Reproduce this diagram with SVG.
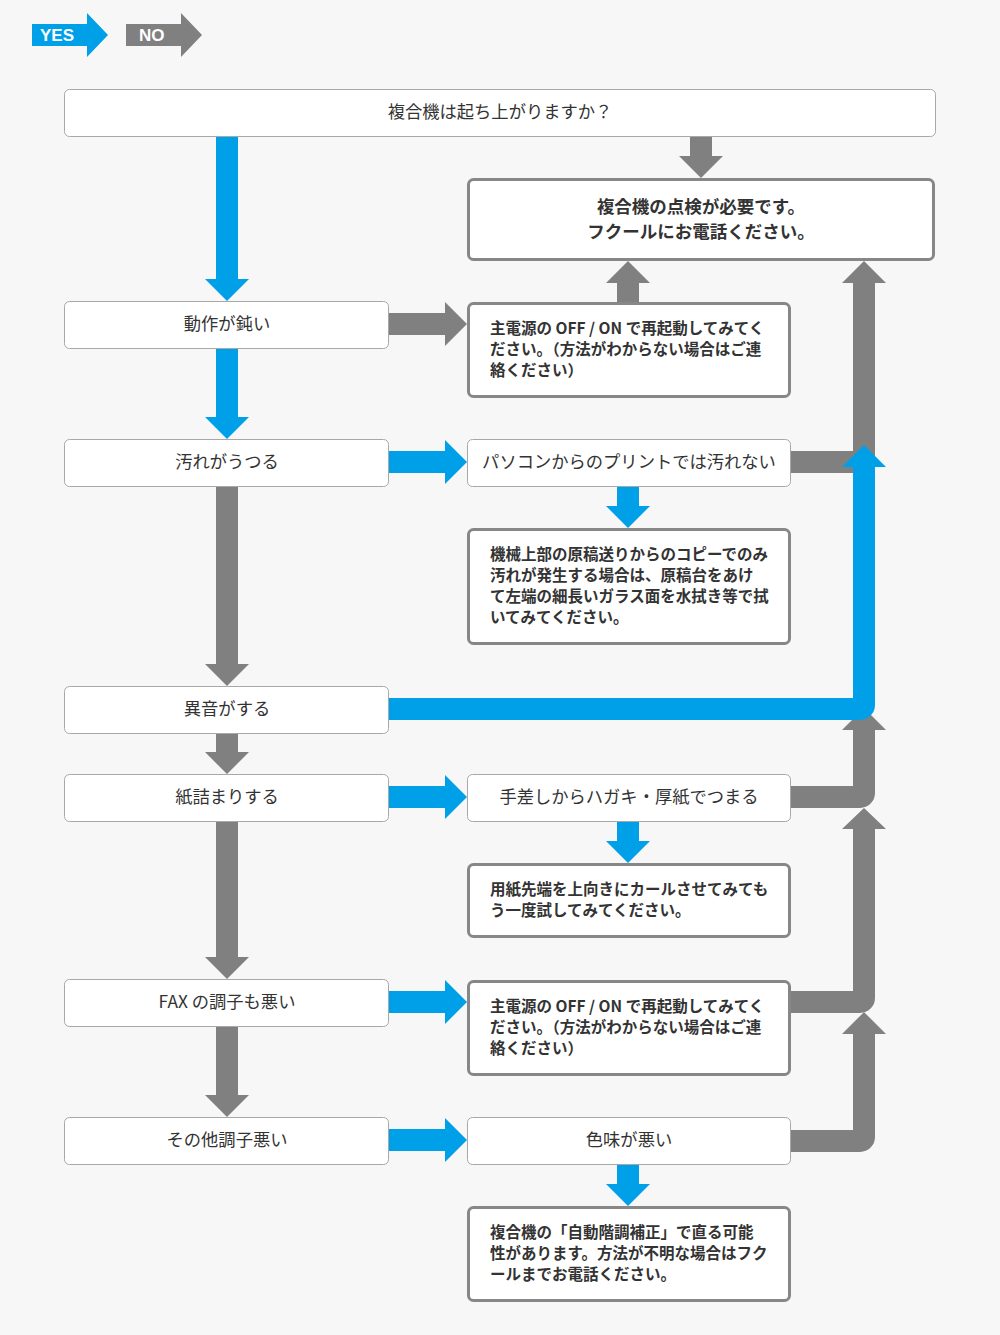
<svg xmlns="http://www.w3.org/2000/svg" width="1000" height="1335" viewBox="0 0 1000 1335">
<style>
.bg{fill:#f7f7f7}
.q{fill:#fff;stroke:#a8a8a8;stroke-width:1}
.a{fill:#fff;stroke:#878787;stroke-width:3}
.t{font-family:"Noto Sans CJK JP","Noto Sans",sans-serif;font-size:17.3px;fill:#333;text-anchor:middle}
.b{font-family:"Noto Sans CJK JP","Noto Sans",sans-serif;font-size:15.5px;font-weight:bold;fill:#333}
.bc{font-family:"Noto Sans CJK JP","Noto Sans",sans-serif;font-size:17.5px;font-weight:bold;fill:#333;text-anchor:middle}
.blue{fill:#00a0e9}
.gray{fill:#808080}
.lg{font-family:"Liberation Sans",Arial,sans-serif;font-size:17px;font-weight:bold;fill:#fff}
</style>
<rect class="bg" x="0" y="0" width="1000" height="1335"/>

<g id="legend">
<polygon class="blue" points="32,24 87,24 87,13 108,35 87,57 87,46 32,46"/>
<text class="lg" x="40" y="41">YES</text>
<polygon class="gray" points="126,24 181,24 181,13 202,35 181,57 181,46 126,46"/>
<text class="lg" x="139" y="41">NO</text>
</g>

<g id="connectors">
<polygon class="blue" points="216,136 238,136 238,279 249,279 227,301 205,279 216,279"/>
<polygon class="blue" points="216,348 238,348 238,417 249,417 227,439 205,417 216,417"/>
<polygon class="gray" points="216,486 238,486 238,664 249,664 227,686 205,664 216,664"/>
<polygon class="gray" points="216,733 238,733 238,752 249,752 227,774 205,752 216,752"/>
<polygon class="gray" points="216,821 238,821 238,957 249,957 227,979 205,957 216,957"/>
<polygon class="gray" points="216,1026 238,1026 238,1095 249,1095 227,1117 205,1095 216,1095"/>
<polygon class="gray" points="690,136 712,136 712,156 723,156 701,178 679,156 690,156"/>
<polygon class="gray" points="389,313 445,313 445,302 467,324 445,346 445,335 389,335"/>
<polygon class="blue" points="389,451 445,451 445,440 467,462 445,484 445,473 389,473"/>
<polygon class="blue" points="389,786 445,786 445,775 467,797 445,819 445,808 389,808"/>
<polygon class="blue" points="389,991 445,991 445,980 467,1002 445,1024 445,1013 389,1013"/>
<polygon class="blue" points="389,1129 445,1129 445,1118 467,1140 445,1162 445,1151 389,1151"/>
<polygon class="gray" points="617,302 639,302 639,283 650,283 628,261 606,283 617,283"/>
<polygon class="blue" points="617,486 639,486 639,506 650,506 628,528 606,506 617,506"/>
<polygon class="blue" points="617,821 639,821 639,841 650,841 628,863 606,841 617,841"/>
<polygon class="blue" points="617,1164 639,1164 639,1184 650,1184 628,1206 606,1184 617,1184"/>
<path class="gray" d="M791,451 H853 V283 H842 L864,261 L886,283 H875 V473 H791 Z"/>
<path class="gray" d="M791,786 H853 V730 H842 L864,708 L886,730 H875 V793 A15,15 0 0 1 860,808 H791 Z"/>
<path class="blue" d="M389,698 H853 V467 H842 L864,445 L886,467 H875 V705 A15,15 0 0 1 860,720 H389 Z"/>
<path class="gray" d="M791,991 H853 V829 H842 L864,808 L886,829 H875 V998 A15,15 0 0 1 860,1013 H791 Z"/>
<path class="gray" d="M791,1130 H853 V1034 H842 L864,1012 L886,1034 H875 V1137 A15,15 0 0 1 860,1152 H791 Z"/>
</g>

<g id="n-start">
<rect class="q" x="64.5" y="89.5" width="871" height="47" rx="5"/>
<text class="t" x="500" y="118">複合機は起ち上がりますか？</text>
</g>
<g id="n-inspect">
<rect class="a" x="468.5" y="179.5" width="465" height="80" rx="5"/>
<text class="bc" x="701" y="213">複合機の点検が必要です。</text>
<text class="bc" x="701" y="238">フクールにお電話ください。</text>
</g>
<g id="n-slow">
<rect class="q" x="64.5" y="301.5" width="324" height="47" rx="5"/>
<text class="t" x="227" y="330">動作が鈍い</text>
</g>
<g id="n-restart1">
<rect class="a" x="468.5" y="303.5" width="321" height="93" rx="5"/>
<text class="b" x="490" y="334">主電源の OFF / ON で再起動してみてく</text>
<text class="b" x="490" y="355">ださい。（方法がわからない場合はご連</text>
<text class="b" x="490" y="376">絡ください）</text>
</g>
<g id="n-dirty">
<rect class="q" x="64.5" y="439.5" width="324" height="47" rx="5"/>
<text class="t" x="227" y="468">汚れがうつる</text>
</g>
<g id="n-pc">
<rect class="q" x="467.5" y="439.5" width="323" height="47" rx="5"/>
<text class="t" x="629" y="468">パソコンからのプリントでは汚れない</text>
</g>
<g id="n-glass">
<rect class="a" x="468.5" y="529.5" width="321" height="114" rx="5"/>
<text class="b" x="490" y="560">機械上部の原稿送りからのコピーでのみ</text>
<text class="b" x="490" y="581">汚れが発生する場合は、原稿台をあけ</text>
<text class="b" x="490" y="602">て左端の細長いガラス面を水拭き等で拭</text>
<text class="b" x="490" y="623">いてみてください。</text>
</g>
<g id="n-noise">
<rect class="q" x="64.5" y="686.5" width="324" height="47" rx="5"/>
<text class="t" x="227" y="715">異音がする</text>
</g>
<g id="n-jam">
<rect class="q" x="64.5" y="774.5" width="324" height="47" rx="5"/>
<text class="t" x="227" y="803">紙詰まりする</text>
</g>
<g id="n-manual">
<rect class="q" x="467.5" y="774.5" width="323" height="47" rx="5"/>
<text class="t" x="629" y="803">手差しからハガキ・厚紙でつまる</text>
</g>
<g id="n-curl">
<rect class="a" x="468.5" y="864.5" width="321" height="72" rx="5"/>
<text class="b" x="490" y="895">用紙先端を上向きにカールさせてみても</text>
<text class="b" x="490" y="916">う一度試してみてください。</text>
</g>
<g id="n-fax">
<rect class="q" x="64.5" y="979.5" width="324" height="47" rx="5"/>
<text class="t" x="227" y="1008">FAX の調子も悪い</text>
</g>
<g id="n-restart2">
<rect class="a" x="468.5" y="981.5" width="321" height="93" rx="5"/>
<text class="b" x="490" y="1012">主電源の OFF / ON で再起動してみてく</text>
<text class="b" x="490" y="1033">ださい。（方法がわからない場合はご連</text>
<text class="b" x="490" y="1054">絡ください）</text>
</g>
<g id="n-other">
<rect class="q" x="64.5" y="1117.5" width="324" height="47" rx="5"/>
<text class="t" x="227" y="1146">その他調子悪い</text>
</g>
<g id="n-color">
<rect class="q" x="467.5" y="1117.5" width="323" height="47" rx="5"/>
<text class="t" x="629" y="1146">色味が悪い</text>
</g>
<g id="n-auto">
<rect class="a" x="468.5" y="1207.5" width="321" height="93" rx="5"/>
<text class="b" x="490" y="1238">複合機の「自動階調補正」で直る可能</text>
<text class="b" x="490" y="1259">性があります。方法が不明な場合はフク</text>
<text class="b" x="490" y="1280">ールまでお電話ください。</text>
</g>
</svg>
